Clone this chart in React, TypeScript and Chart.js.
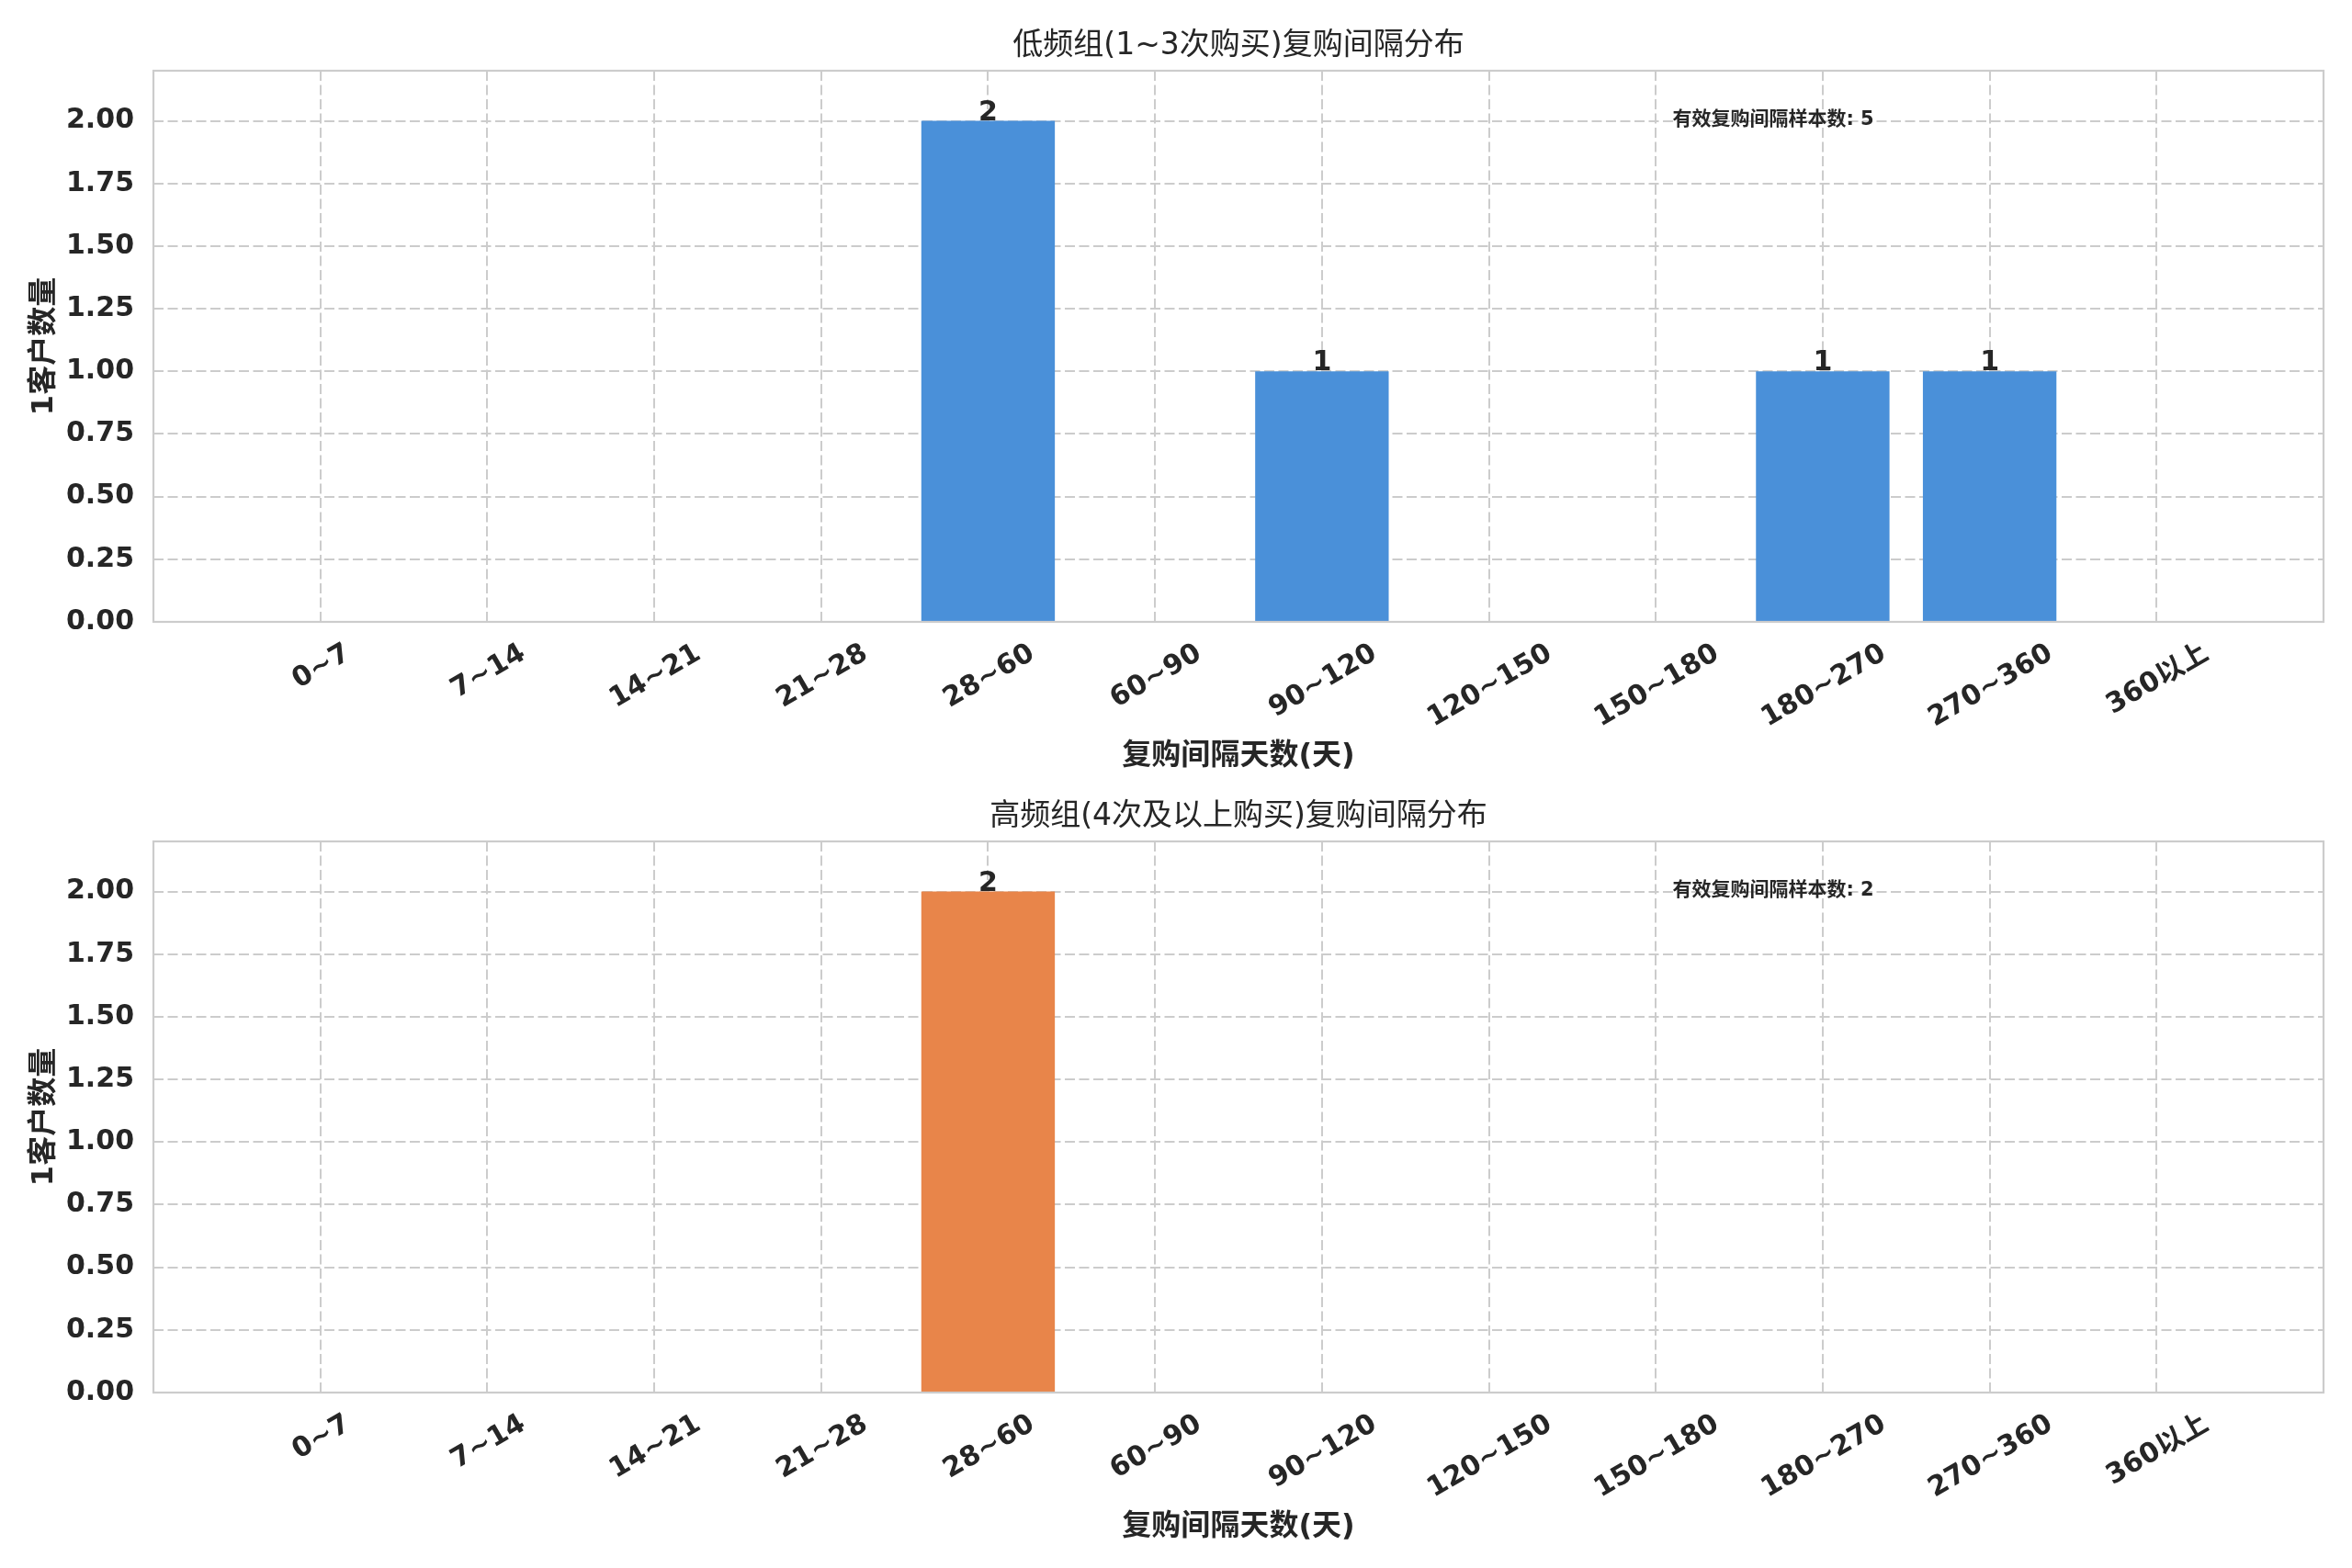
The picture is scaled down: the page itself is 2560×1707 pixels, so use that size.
import React, { useEffect, useRef } from 'react';
import { Chart, registerables } from 'chart.js';

Chart.register(...registerables);

// ---- data ----
const categories = ['0~7', '7~14', '14~21', '21~28', '28~60', '60~90', '90~120', '120~150', '150~180', '180~270', '270~360', '360以上'];
const lowFreqCounts = [0, 0, 0, 0, 2, 0, 1, 0, 0, 1, 1, 0];
const highFreqCounts = [0, 0, 0, 0, 2, 0, 0, 0, 0, 0, 0, 0];
const lowTitle = '低频组(1~3次购买)复购间隔分布';
const highTitle = '高频组(4次及以上购买)复购间隔分布';
const xAxisTitle = '复购间隔天数(天)';
const yAxisTitle = '1客户数量';
const noteLabel = '有效复购间隔样本数';
const lowColor = '#4a90d9';
const highColor = '#e8854a';
const yMax = 2.2;
const yStep = 0.25;

// ---- layout ----
const W = 2560;
const H = 868;
const PLOT_LEFT = 167;
const PLOT_TOP = 77;
const PLOT_RIGHT = 2529;
const PLOT_BOTTOM = 677;
const X_SCALE_H = 100;
const TEXT = '#262626';
const GRID = '#cccccc';
const FONT = '"DejaVu Sans", "Noto Sans CJK SC", sans-serif';

type PanelProps = { values: number[]; color: string; title: string; top: number };

function Panel({ values, color, title, top }: PanelProps) {
  const ref = useRef<HTMLCanvasElement | null>(null);

  useEffect(() => {
    if (!ref.current) return;
    const labels = ['', ...categories, ''];
    const data = [null, ...values, null];
    const total = values.reduce((a, b) => a + b, 0);

    const drawPlugin = {
      id: 'panelDecor',
      afterDatasetsDraw(chart: any) {
        const { ctx, chartArea: ca } = chart;
        ctx.save();
        const meta = chart.getDatasetMeta(0);
        ctx.fillStyle = TEXT;
        ctx.font = `bold 30px ${FONT}`;
        ctx.textAlign = 'center';
        ctx.textBaseline = 'alphabetic';
        meta.data.forEach((el: any, i: number) => {
          const v = data[i];
          if (v && v > 0) ctx.fillText(String(v), el.x, el.y - 1);
        });
        ctx.strokeStyle = GRID;
        ctx.lineWidth = 2.2;
        ctx.strokeRect(ca.left, ca.top, ca.right - ca.left, ca.bottom - ca.top);
        ctx.restore();
      },
      afterDraw(chart: any) {
        const { ctx, chartArea: ca } = chart;
        const xs = chart.scales.x;
        const cx = (ca.left + ca.right) / 2;
        ctx.save();
        ctx.fillStyle = TEXT;
        ctx.font = `33px ${FONT}`;
        ctx.textAlign = 'center';
        ctx.textBaseline = 'middle';
        ctx.fillText(title, cx, 50);
        ctx.font = `bold 30px ${FONT}`;
        const fh = 30 * 1.164;
        categories.forEach((lab, i) => {
          const x = xs.getPixelForValue(i + 1);
          const w = ctx.measureText(lab).width;
          const bboxH = w * 0.5 + fh * Math.cos(Math.PI / 6);
          const cy = ca.bottom + 15 + bboxH / 2;
          ctx.save();
          ctx.translate(x, cy);
          ctx.rotate(-Math.PI / 6);
          ctx.textAlign = 'center';
          ctx.textBaseline = 'alphabetic';
          ctx.fillText(lab, 0, 30 * 0.346);
          ctx.restore();
        });
        ctx.font = `bold 32px ${FONT}`;
        ctx.textAlign = 'center';
        ctx.textBaseline = 'middle';
        ctx.fillText(xAxisTitle, cx, 824);
        ctx.save();
        ctx.translate(49, (ca.top + ca.bottom) / 2);
        ctx.rotate(-Math.PI / 2);
        ctx.fillText(yAxisTitle, 0, 0);
        ctx.restore();
        ctx.font = `bold 21px ${FONT}`;
        ctx.textAlign = 'left';
        ctx.textBaseline = 'middle';
        ctx.fillText(`${noteLabel}: ${total}`, ca.left + 0.7 * (ca.right - ca.left), ca.top + 54);
        ctx.restore();
      },
    };

    const chart = new Chart(ref.current, {
      type: 'bar',
      data: {
        labels,
        datasets: [
          {
            data: data as any,
            backgroundColor: color,
            borderWidth: 0,
            categoryPercentage: 0.8,
            barPercentage: 1.0,
          },
        ],
      },
      options: {
        responsive: false,
        devicePixelRatio: 1,
        animation: false,
        layout: { padding: { left: 0, top: PLOT_TOP, right: W - PLOT_RIGHT, bottom: H - PLOT_BOTTOM - X_SCALE_H } },
        plugins: { legend: { display: false }, tooltip: { enabled: false }, title: { display: false } },
        scales: {
          x: {
            type: 'category',
            offset: false,
            grid: {
              offset: false,
              drawTicks: false,
              lineWidth: 2,
              color: (c: any) => (c.index === 0 || c.index === labels.length - 1 ? 'rgba(0,0,0,0)' : GRID),
            },
            border: { display: false, dash: [11, 4.5] },
            ticks: { display: false, autoSkip: false },
            afterFit: (s: any) => {
              s.height = X_SCALE_H;
            },
          },
          y: {
            min: 0,
            max: yMax,
            grid: { drawTicks: false, lineWidth: 2, color: GRID },
            border: { display: false, dash: [11, 4.5] },
            ticks: {
              stepSize: yStep,
              includeBounds: false,
              padding: 21,
              color: TEXT,
              font: { family: FONT, size: 30, weight: 'bold' },
              callback: (v: any) => Number(v).toFixed(2),
            },
            afterFit: (s: any) => {
              s.width = PLOT_LEFT;
            },
          },
        },
      } as any,
      plugins: [drawPlugin],
    });
    return () => chart.destroy();
  }, [values, color, title]);

  return (
    <canvas
      ref={ref}
      width={W}
      height={H}
      style={{ position: 'absolute', left: 0, top, width: `${W}px`, height: `${H}px` }}
    />
  );
}

export default function App() {
  return (
    <div style={{ position: 'fixed', left: 0, top: 0, width: `${W}px`, height: '1707px', background: '#ffffff', overflow: 'hidden' }}>
      <Panel values={lowFreqCounts} color={lowColor} title={lowTitle} top={0} />
      <Panel values={highFreqCounts} color={highColor} title={highTitle} top={839} />
    </div>
  );
}
